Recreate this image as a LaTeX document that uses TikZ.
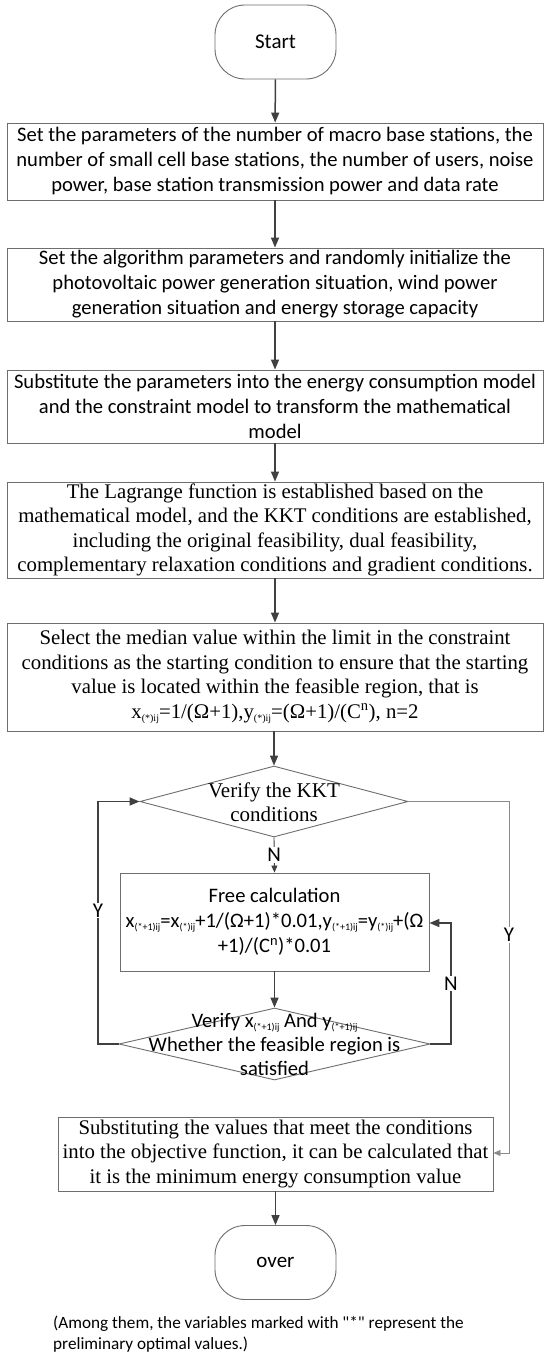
\documentclass[tikz,border=0pt]{standalone}
\usepackage{fontspec}
\setmainfont{Liberation Serif}
\newfontfamily\carl{Carlito}
\usetikzlibrary{shapes.geometric,arrows.meta,calc}
\definecolor{bordergray}{HTML}{6E6E6E}
\definecolor{arrowgray}{HTML}{404040}
\definecolor{midgray}{HTML}{8A8A8A}
\newcommand{\sbs}[1]{\raisebox{-0.3ex}{\fontsize{10}{10}\selectfont #1}}
\begin{document}
\begin{tikzpicture}[x=1pt,y=-1pt,
  sbox/.style={draw=bordergray,line width=0.9pt,rectangle,inner sep=0pt,align=center,font={\carl\fontsize{20.6}{25}\selectfont}},
  tbox/.style={draw=bordergray,line width=0.9pt,rectangle,inner sep=0pt,align=center,font={\fontsize{20.8}{24.5}\selectfont}},
  term/.style={draw=bordergray,line width=0.9pt,rounded corners=30pt,minimum width=121pt,minimum height=74pt,inner sep=0pt,font={\carl\fontsize{21}{24}\selectfont}},
  dia/.style={draw=bordergray,line width=0.9pt,diamond,inner sep=0pt},
  dtext/.style={align=center,inner sep=0pt},
  flow/.style={draw=arrowgray,line width=1.5pt,-{Triangle[length=10pt,width=8pt]}},
  flowthin/.style={draw=arrowgray,line width=0.9pt,-{Triangle[length=7pt,width=6pt]}},
  thinline/.style={draw=midgray,line width=0.9pt,-{Triangle[length=7pt,width=6pt]}},
  lab/.style={fill=white,inner sep=1pt,font={\carl\fontsize{21}{24}\selectfont}}]
\useasboundingbox[fill=white] (0,0) rectangle (550,1362);

\node[term] (start) at (275.5,42) {Start};
\node[sbox,minimum width=536pt,minimum height=77pt] (b1) at (275,161.5)
  {Set the parameters of the number of macro base stations, the\\number of small cell base stations, the number of users, noise\\power, base station transmission power and data rate};
\node[sbox,minimum width=536pt,minimum height=73pt] (b2) at (275,284.5)
  {Set the algorithm parameters and randomly initialize the\\photovoltaic power generation situation, wind power\\generation situation and energy storage capacity};
\node[sbox,minimum width=536pt,minimum height=73pt] (b3) at (275,406.5)
  {Substitute the parameters into the energy consumption model\\and the constraint model to transform the mathematical\\model};
\node[tbox,minimum width=536pt,minimum height=96pt] (b4) at (275,530)
  {The Lagrange function is established based on the\\mathematical model, and the KKT conditions are established,\\including the original feasibility, dual feasibility,\\complementary relaxation conditions and gradient conditions.};
\node[tbox,minimum width=536pt,minimum height=108pt] (b5) at (275,677)
  {Select the median value within the limit in the constraint\\conditions as the starting condition to ensure that the starting\\value is located within the feasible region, that is\\x\sbs{(*)ij}=1/(Ω+1),y\sbs{(*)ij}=(Ω+1)/(C\textsuperscript{n}), n=2};
\node[dia,minimum width=268pt,minimum height=71pt] (d1) at (274,801.5) {};
\node[dtext,font={\fontsize{21}{24}\selectfont}] (d1t) at (274,802) {Verify the KKT\\conditions};
\node[sbox,minimum width=309pt,minimum height=98pt] (fc) at (274.5,922)
  {Free calculation\\x\sbs{(*+1)ij}=x\sbs{(*)ij}+1/(Ω+1)*0.01,y\sbs{(*+1)ij}=y\sbs{(*)ij}+(Ω\\+1)/(C\textsuperscript{n})*0.01};
\node[dia,minimum width=311pt,minimum height=72pt] (d2) at (274.5,1044) {};
\node[dtext,font={\carl\fontsize{20.6}{24}\selectfont}] (d2t) at (274.5,1044)
  {Verify x\sbs{(*+1)ij} And y\sbs{(*+1)ij}\\Whether the feasible region is\\satisfied};
\node[tbox,minimum width=435pt,minimum height=74pt] (fb) at (275.5,1154)
  {Substituting the values that meet the conditions\\into the objective function, it can be calculated that\\it is the minimum energy consumption value};
\node[term] (over) at (275.5,1262.5) {over};
\node[anchor=north west,align=left,inner sep=0pt,font={\carl\fontsize{17.2}{21}\selectfont}] (note) at (53,1316)
  {(Among them, the variables marked with "*" represent the\\preliminary optimal values.)};

\coordinate (lb) at (98,1044);
\coordinate (lt) at (98,801.5);
\coordinate (nb) at (451,1044);
\coordinate (nt) at (451,923);
\coordinate (rt) at (509,801.5);
\coordinate (rb) at (509,1153);

\draw[flow] (start) -- (b1);
\draw[flow] (b1) -- (b2);
\draw[flow] (b2) -- (b3);
\draw[flow] (b3) -- (b4);
\draw[flow] (b4) -- (b5);
\draw[flow] (b5.south -| d1.north) -- (d1.north);
\draw[flowthin] (d1.south) -- node[lab] {N} (fc.north);
\draw[flow] (fc.south -| d2.north) -- (d2.north);
\draw[flow] (d2.west) -- (lb) -- node[lab,pos=0.55] {Y} (lt) -- (d1.west);
\draw[flow] (d2.east) -- (nb) -- node[lab] {N} (nt) -- (nt -| fc.east);
\draw[thinline] (d1.east) -- (rt) -- node[lab,pos=0.38] {Y} (rb) -- (rb -| fb.east);
\draw[flow] (fb.south -| over.north) -- (over.north);
\end{tikzpicture}
\end{document}
